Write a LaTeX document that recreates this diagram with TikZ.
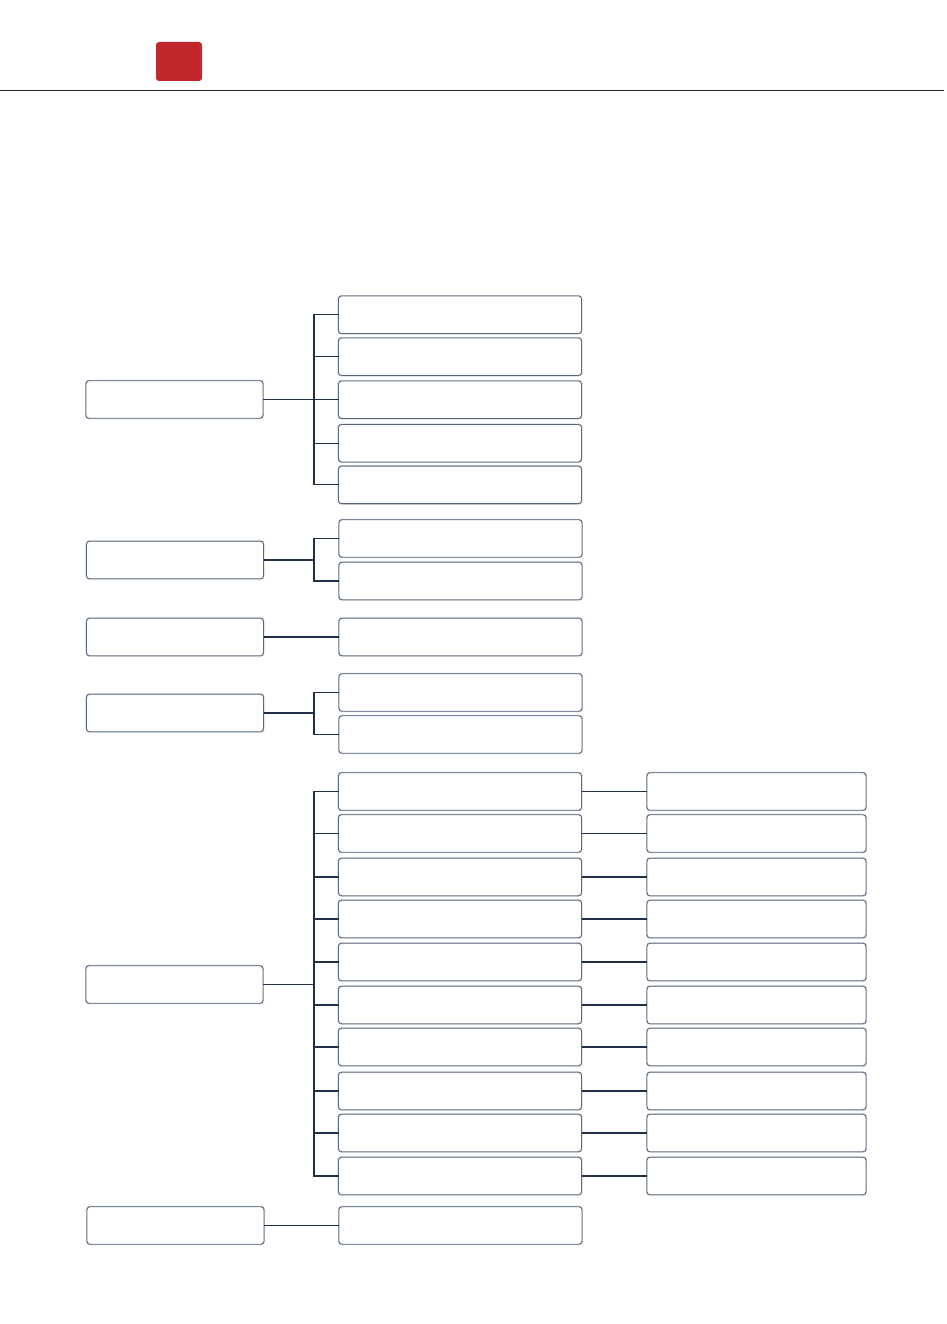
\documentclass[tikz,border=0pt]{standalone}
\usetikzlibrary{calc}
\definecolor{boxline}{HTML}{56677C}
\definecolor{boxhalo}{HTML}{B9C1CA}
\definecolor{conn}{HTML}{1F3048}
\definecolor{redmark}{HTML}{C1272D}
\tikzset{
  x=1pt, y=-1pt,
  box/.style={draw=boxline, line width=0.9pt, rounded corners=3pt, fill=white,
    preaction={draw=boxhalo, line width=1.8pt, rounded corners=3pt},
    inner sep=0pt, outer sep=0pt, minimum height=37.5pt},
  lbox/.style={box, minimum width=177pt},
  mbox/.style={box, minimum width=243pt},
  rbox/.style={box, minimum width=219pt},
  link/.style={draw=conn, line width=1.1pt},
}
\begin{document}
\begin{tikzpicture}
\useasboundingbox (0,0) rectangle (946,1324);
% header
\node[fill=redmark, rounded corners=3pt, minimum width=46pt, minimum height=39pt, inner sep=0pt] (tab) at (179,61.5) {};
\coordinate (hl) at (0,91);
\coordinate (hr) at (944,91);
\draw[color=black!85, line width=1pt] (hl) -- (hr);
\coordinate (bx) at (314,0);

% group 1
\node[lbox] (L1) at (174.5,399.5) {};
\foreach \i/\y in {1/314.7, 2/356.7, 3/399.7, 4/443.2, 5/484.9}
  \node[mbox] (A\i) at (460,\y) {};
\draw[link] (L1.east) -- (L1.east -| bx);
\draw[link] (A1.west) -- (A1.west -| bx) -- (A5.west -| bx) -- (A5.west);
\foreach \i in {2,3,4} \draw[link] (A\i.west -| bx) -- (A\i.west);

% group 2
\node[lbox] (L2) at (175,560) {};
\node[mbox] (B1) at (460.5,538.5) {};
\node[mbox] (B2) at (460.5,581) {};
\draw[link] (L2.east) -- (L2.east -| bx);
\draw[link] (B1.west) -- (B1.west -| bx) -- (B2.west -| bx) -- (B2.west);

% group 3
\node[lbox] (L3) at (175,637) {};
\node[mbox] (C1) at (460.5,637) {};
\draw[link] (L3.east) -- (C1.west);

% group 4
\node[lbox] (L4) at (175,713) {};
\node[mbox] (D1) at (460.5,692.5) {};
\node[mbox] (D2) at (460.5,734.5) {};
\draw[link] (L4.east) -- (L4.east -| bx);
\draw[link] (D1.west) -- (D1.west -| bx) -- (D2.west -| bx) -- (D2.west);

% group 5
\node[lbox] (L5) at (174.5,984.5) {};
\foreach \i/\y in {1/791.5, 2/833.5, 3/877, 4/919, 5/962, 6/1005, 7/1047, 8/1091, 9/1133, 10/1176} {
  \node[mbox] (E\i) at (460,\y) {};
  \node[rbox] (F\i) at (756.5,\y) {};
  \draw[link] (E\i.east) -- (F\i.west);
}
\draw[link] (L5.east) -- (L5.east -| bx);
\draw[link] (E1.west) -- (E1.west -| bx) -- (E10.west -| bx) -- (E10.west);
\foreach \i in {2,...,9} \draw[link] (E\i.west -| bx) -- (E\i.west);

% group 6
\node[lbox] (L6) at (175.5,1225.5) {};
\node[mbox] (G1) at (460.5,1225.5) {};
\draw[link] (L6.east) -- (G1.west);
\end{tikzpicture}
\end{document}
